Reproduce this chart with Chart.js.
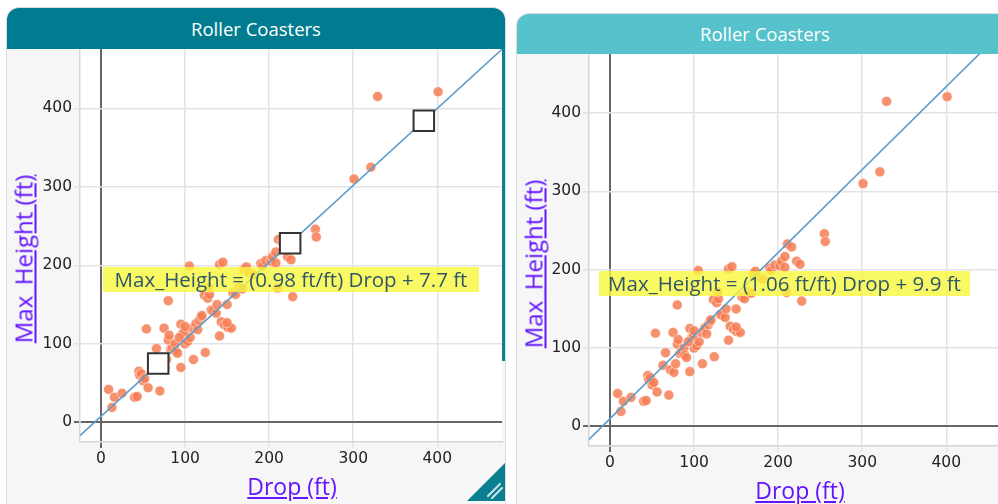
<!DOCTYPE html>
<html>
<head>
<meta charset="utf-8">
<title>Roller Coasters</title>
<script src="https://cdn.jsdelivr.net/npm/chart.js@4.4.1/dist/chart.umd.min.js"></script>
<style>
  body { margin: 0; width: 998px; height: 504px; overflow: hidden; background: #fff; position: relative; font-family: "Open Sans", Lato, sans-serif; }
  .card { position: absolute; background: #f6f6f6; border-radius: 12px 12px 0 0; box-shadow: 0 0 0 1px #dcdcdc; overflow: hidden; }
  .card .head { color: #fff; text-align: center; font-size: 18.5px; font-weight: 500; }
  .card .plot { position: absolute; left: 0; }
  .ytitle, .xtitle { position: absolute; color: #6414ff; text-decoration: underline; font-weight: 500; white-space: nowrap; z-index: 5; }
  .ytitle { font-size: 24px; transform: translate(-50%, -50%) rotate(-90deg); }
  .xtitle { font-size: 23px; transform: translate(-50%, -50%); }
  .eq { position: absolute; background: rgba(248, 248, 60, 0.8); color: #30566a; font-size: 20.5px; height: 25px; line-height: 25px; text-align: center; white-space: nowrap; z-index: 5; }
</style>
</head>
<body>

<div class="card" style="left:7px; top:8px; width:498px; height:510px;">
  <div class="head" style="height:41px; line-height:41px; background:#007b8f;">Roller Coasters</div>
  <div class="plot" style="top:41px;"><canvas id="left" width="498" height="455"></canvas></div>
  <div style="position:absolute; right:0; top:41px; width:3px; height:312px; background:#0a8196;"></div>
  <svg style="position:absolute; right:0; top:455px;" width="38" height="38" viewBox="0 0 38 38">
    <polygon points="38,0 38,38 0,38" fill="#0a7f92"/>
    <line x1="21" y1="33" x2="33" y2="21" stroke="#fff" stroke-width="2" stroke-linecap="round" opacity="0.8"/>
    <line x1="25" y1="35" x2="35" y2="25" stroke="#fff" stroke-width="2" stroke-linecap="round" opacity="0.8"/>
  </svg>
</div>

<div class="card" style="left:517px; top:14px; width:496px; height:510px;">
  <div class="head" style="height:40px; line-height:40px; background:#56c2cc;">Roller Coasters</div>
  <div class="plot" style="top:40px;"><canvas id="right" width="496" height="450"></canvas></div>
</div>

<div class="ytitle" style="left:23px; top:259px;">Max_Height (ft)</div>
<div class="xtitle" style="left:292px; top:486px;">Drop (ft)</div>
<div class="eq" style="left:103px; top:267px; width:376px;">Max_Height = (0.98 ft/ft) Drop + 7.7 ft</div>

<div class="ytitle" style="left:533px; top:264px;">Max_Height (ft)</div>
<div class="xtitle" style="left:800px; top:490px;">Drop (ft)</div>
<div class="eq" style="left:599px; top:271px; width:371px;">Max_Height = (1.06 ft/ft) Drop + 9.9 ft</div>

<script>
// roller coaster data
const drops = [9, 13, 16, 25, 40, 43, 45, 46, 48, 50, 52, 56, 54, 63, 66, 70, 72, 75, 76, 78,
  80, 80, 81, 83, 85, 88, 89, 91, 95, 95, 97, 99, 100, 103, 105, 106, 109, 110, 113, 115,
  117, 119, 120, 124, 123, 127, 129, 131, 133, 137, 138, 141, 141, 145, 143, 147, 150, 151, 155, 157,
  160, 164, 168, 170, 173, 176, 182, 190, 192, 196, 202, 204, 208, 208, 210, 211, 216, 222, 226, 228,
  255, 256, 301, 321, 329, 401, 128, 150, 100, 93];
const heights = [42, 19, 32, 37, 32, 33, 65, 60, 62, 53, 56, 44, 119, 78, 94, 40, 72, 120, 69, 80,
  155, 105, 111, 93, 95, 100, 91, 88, 70, 125, 113, 115, 100, 103, 199, 108, 120, 80, 126, 118,
  130, 134, 136, 89, 162, 158, 163, 143, 142, 139, 150, 110, 201, 204, 128, 124, 150, 121, 120, 165,
  163, 172, 170, 195, 198, 191, 188, 202, 199, 206, 205, 211, 217, 203, 171, 233, 229, 211, 207, 160,
  246, 236, 310, 325, 415, 421, 172, 127, 122, 108];

const xTicks = [0, 100, 200, 300, 400];
const yTicks = [0, 100, 200, 300, 400];

// least squares lines (end points)
const fitX = [-25, 477];
const fitLeftY = [-16.8, 475.2];   // 0.98 x + 7.7
const fitRightY = [-16.6, 515.5];  // 1.06 x + 9.9

// movable line handles on the left card
const handleX = [68, 225, 384];
const handleY = [75, 228, 384];

const plotBg = {
  id: 'plotBg',
  beforeDraw(chart) {
    const a = chart.chartArea, ctx = chart.ctx;
    ctx.save();
    ctx.fillStyle = '#fff';
    ctx.fillRect(a.left, a.top, a.right - a.left, a.bottom - a.top);
    ctx.restore();
  }
};

function pts(xs, ys) {
  return xs.map((x, i) => ({ x: x, y: ys[i] }));
}

function axis(min, max, ticks, fit) {
  return {
    type: 'linear',
    min: min,
    max: max,
    afterBuildTicks: s => { s.ticks = ticks.map(v => ({ value: v })); },
    afterFit: s => {
      fit(s);
      // ticks sit well inside the range, no room needed for edge labels
      s.paddingTop = s.paddingBottom = s.paddingLeft = s.paddingRight = 0;
    },
    grid: {
      color: c => (c.tick && c.tick.value === 0) ? '#666' : '#e3e3e3',
      lineWidth: c => (c.tick && c.tick.value === 0) ? 2 : 1.5,
      tickLength: 6
    },
    border: { color: '#d6d6d6', width: 1.5 },
    ticks: { color: '#222', font: { family: 'DejaVu Sans', size: 15.5 }, padding: 2, maxRotation: 0 }
  };
}

function drawCard(id, fitY, yWidth, xHeight, padRight, withHandles) {
  const datasets = [
    {
      data: pts(fitX, fitY),
      showLine: true,
      borderColor: '#5d9ccb',
      borderWidth: 1.6,
      pointRadius: 0,
      order: 1
    },
    {
      data: pts(drops, heights),
      backgroundColor: 'rgba(246, 124, 84, 0.85)',
      borderColor: 'rgba(255, 255, 255, 0.5)',
      borderWidth: 1,
      pointRadius: 5,
      order: 2
    }
  ];
  if (withHandles) {
    datasets.push({
      data: pts(handleX, handleY),
      pointStyle: 'rect',
      pointRadius: 14.5,
      backgroundColor: '#fff',
      borderColor: '#333',
      borderWidth: 2,
      order: 0
    });
  }
  new Chart(document.getElementById(id), {
    type: 'scatter',
    data: { datasets: datasets },
    options: {
      responsive: false,
      animation: false,
      devicePixelRatio: 1,
      layout: { autoPadding: false, padding: { left: 0, right: padRight, top: 0, bottom: 0 } },
      plugins: { legend: { display: false }, tooltip: { enabled: false } },
      scales: {
        x: axis(-25, 477, xTicks, s => { s.height = xHeight; }),
        y: axis(-25, 475.5, yTicks, s => { s.width = yWidth; })
      }
    },
    plugins: [plotBg]
  });
}

drawCard('left', fitLeftY, 73, 62, 3, true);
drawCard('right', fitRightY, 72, 58, 2, false);
</script>
</body>
</html>
